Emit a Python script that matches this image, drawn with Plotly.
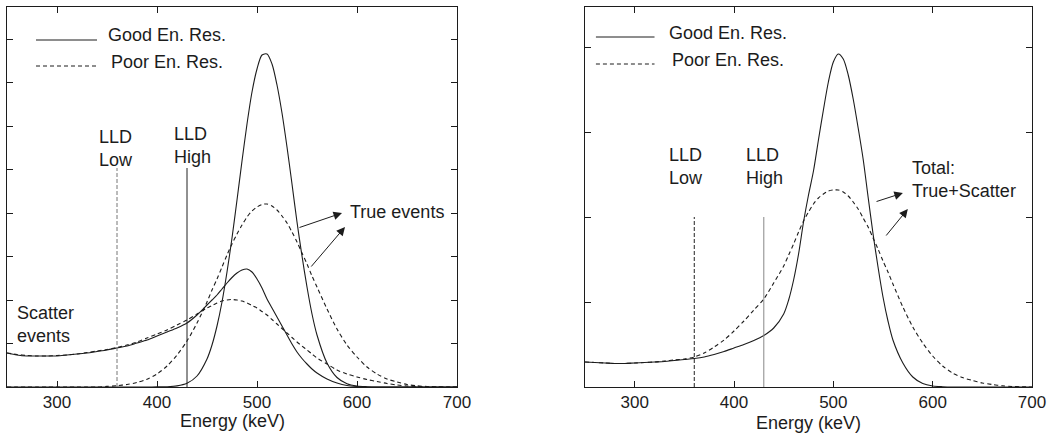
import plotly.graph_objects as go

# ---------------- data (energy in keV, counts in arbitrary units) ----------------
energy_kev = [250, 260, 270, 280, 290, 300, 310, 320, 330, 340,
              350, 360, 370, 380, 390, 400, 410, 420, 430, 440,
              450, 455, 460, 465, 470, 475, 480, 485, 490, 495,
              500, 505, 510, 515, 520, 525, 530, 535, 540, 545,
              550, 555, 560, 570, 580, 590, 600, 610, 620, 630,
              640, 650, 660, 670, 680, 690, 700]

# Left panel: true and scatter components
left_good_true = [0, 0, 0, 0, 0, 0, 0, 0, 0, 0,
                  0, 0, 0, 0, 0, 0.1, 0.3, 1.1, 3.7, 11,
                  28, 42, 61, 85, 115, 149, 187, 226, 263, 295,
                  318, 332, 333, 323, 302, 274, 240, 203, 165, 131,
                  100, 73, 52, 24, 9.5, 3.3, 1, 0.3, 0, 0,
                  0, 0, 0, 0, 0, 0, 0]
left_poor_true = [0, 0, 0, 0, 0, 0, 0, 0, 0, 0,
                  0.6, 1.3, 2.5, 4.5, 7.8, 13, 21, 32, 46, 64,
                  85, 97, 108, 120, 132, 143, 153, 162, 170, 176,
                  180, 182.5, 183, 181, 177, 171, 164, 155, 145, 134,
                  123, 111, 100, 78, 58, 42, 30, 20, 13, 8,
                  5, 2.5, 1.2, 0.5, 0.2, 0, 0]
left_good_scatter = [34, 32, 31, 31, 31, 31, 32, 33, 34, 35.5,
                     37, 39, 41, 44, 47, 51, 55, 59, 64, 72,
                     82, 87, 92, 98, 104, 109.5, 114, 117, 118, 115,
                     108, 99, 88, 79, 70, 61, 52, 43, 35, 28.5,
                     23, 18, 14, 8, 4, 1.5, 0.5, 0, 0, 0,
                     0, 0, 0, 0, 0, 0, 0]
left_poor_scatter = [34, 32.5, 31.5, 31, 31, 31.5, 32, 33, 34.5, 36,
                     37.5, 39.5, 42, 45, 49, 53, 57, 62, 67, 73,
                     79, 81.5, 84, 86, 87, 87.5, 87, 86, 84, 81.5,
                     79, 75.5, 72, 67.5, 63, 58.5, 54, 49.5, 45, 41,
                     37, 33, 29, 23, 17, 13, 10, 7.5, 5.5, 3.5,
                     2, 1, 0.5, 0.2, 0, 0, 0]

# Right panel: total (true + scatter)
right_good_total = [25, 24.5, 24, 23.5, 23.5, 24, 24.5, 25, 25.5, 26.5,
                    27.5, 28.5, 30, 32.5, 35.5, 39, 42.5, 46.5, 51.5, 59,
                    73, 87, 107, 133, 165, 192, 216, 247, 277, 305,
                    325, 333, 328, 312, 288, 259, 228, 190, 153, 120,
                    90, 66, 47, 24, 10, 3.5, 1, 0.3, 0, 0,
                    0, 0, 0, 0, 0, 0, 0]
right_poor_total = [25, 24.5, 24, 23.5, 23.5, 24, 24.5, 25, 26, 27,
                    28, 30, 34, 40, 47, 56, 66, 77, 88, 104,
                    121, 132, 143, 155, 166, 175, 183, 189, 193, 196,
                    197, 197, 195, 191, 185, 178, 169, 160, 149, 138,
                    126, 115, 103, 80, 60, 44, 31, 21, 14, 9.5,
                    6.5, 4, 2.5, 1.2, 0.5, 0.2, 0]

lld_kev = [360, 430]
lld_labels = ["LLD<br>Low", "LLD<br>High"]
lld_dash = ["4px,2px", "solid"]
left_lld_colors = ["#777777", "#222222"]
right_lld_colors = ["#222222", "#888888"]
left_lld_top = 219
right_lld_top = 170

x_ticks = [300, 400, 500, 600, 700]
left_y_ticks = [0, 43.5, 87, 130.5, 174, 217.5, 261, 304.5, 348]
right_y_ticks = [0, 85, 170, 255, 340]
legend_texts = ["Good En. Res.", "Poor En. Res."]
x_title = "Energy (keV)"

# ---------------- style ----------------
INK = "#1c1c1c"
FONT = "Liberation Sans, Arial, sans-serif"
GOOD_DASH = "solid"
POOR_DASH = "4px,3px"
W, H = 1059, 436

fig = go.Figure()


def curve(y, xa, ya, dash, width=1.1, color=INK):
    fig.add_trace(go.Scatter(
        x=energy_kev, y=y, xaxis=xa, yaxis=ya, mode="lines",
        line=dict(color=color, width=width, dash=dash, shape="spline", smoothing=0.8),
        hoverinfo="skip", showlegend=False))


# left panel curves
curve(left_good_true, "x", "y", GOOD_DASH)
curve(left_poor_true, "x", "y", POOR_DASH)
curve(left_good_scatter, "x", "y", GOOD_DASH)
curve(left_poor_scatter, "x", "y", POOR_DASH)
# right panel curves
curve(right_good_total, "x2", "y2", GOOD_DASH)
curve(right_poor_total, "x2", "y2", POOR_DASH)

# LLD threshold lines
for xa, ya, top, cols in (("x", "y", left_lld_top, left_lld_colors),
                          ("x2", "y2", right_lld_top, right_lld_colors)):
    for e, d, c in zip(lld_kev, lld_dash, cols):
        fig.add_trace(go.Scatter(
            x=[e, e], y=[0, top], xaxis=xa, yaxis=ya, mode="lines",
            line=dict(color=c, width=1, dash=d),
            hoverinfo="skip", showlegend=False))

annotations = []
shapes = []


def label(text, x, y, xref, yref, size=18, xanchor="left"):
    annotations.append(dict(text=text, x=x, y=y, xref=xref, yref=yref,
                            xanchor=xanchor, yanchor="middle", showarrow=False,
                            align="left", font=dict(family=FONT, size=size, color=INK)))


def arrow(x, y, ax, ay, xref, yref):
    annotations.append(dict(text="", x=x, y=y, ax=ax, ay=ay, xref=xref, yref=yref,
                            axref=xref, ayref=yref, showarrow=True, arrowhead=2,
                            arrowsize=1.7, arrowwidth=1, arrowcolor=INK))


# ---- left panel text ----
shapes.append(dict(type="line", xref="x", yref="y", x0=279, x1=340, y0=347, y1=347,
                   line=dict(color=INK, width=1, dash=GOOD_DASH)))
shapes.append(dict(type="line", xref="x", yref="y", x0=279, x1=340, y0=321, y1=321,
                   line=dict(color=INK, width=1, dash=POOR_DASH)))
label(legend_texts[0], 349, 352, "x", "y")
label(legend_texts[1], 352, 325, "x", "y")
label(lld_labels[0], 340, 238, "x", "y")
label(lld_labels[1], 415, 241, "x", "y")
label("Scatter<br>events", 258, 63, "x", "y")
label("True events", 591, 175, "x", "y")
arrow(585, 174, 541, 159, "x", "y")
arrow(588, 160, 553, 119, "x", "y")

# ---- right panel text ----
shapes.append(dict(type="line", xref="x2", yref="y2", x0=261, x1=320, y0=350, y1=350,
                   line=dict(color=INK, width=1, dash=GOOD_DASH)))
shapes.append(dict(type="line", xref="x2", yref="y2", x0=261, x1=320, y0=323, y1=323,
                   line=dict(color=INK, width=1, dash=POOR_DASH)))
label(legend_texts[0], 333, 354, "x2", "y2")
label(legend_texts[1], 336, 327, "x2", "y2")
label(lld_labels[0], 333, 220, "x2", "y2")
label(lld_labels[1], 410, 220, "x2", "y2")
label("Total:<br>True+Scatter", 577, 207, "x2", "y2")
arrow(570, 194, 542, 185, "x2", "y2")
arrow(575, 178, 552, 150, "x2", "y2")

# ---- axis titles (placed as paper-anchored text) ----
annotations.append(dict(text=x_title, x=232 / W, y=1 - 421 / H, xref="paper", yref="paper",
                        xanchor="center", yanchor="middle", showarrow=False,
                        font=dict(family=FONT, size=18, color=INK)))
annotations.append(dict(text=x_title, x=808 / W, y=1 - 423 / H, xref="paper", yref="paper",
                        xanchor="center", yanchor="middle", showarrow=False,
                        font=dict(family=FONT, size=18, color=INK)))

y_dom = [1 - 387 / H, 1 - 7 / H]

xcommon = dict(range=[250, 700], tickvals=x_ticks, ticks="inside", ticklen=6,
               tickcolor=INK, showline=True, linecolor=INK, linewidth=1,
               mirror="allticks", showgrid=False, zeroline=False, automargin=False,
               tickfont=dict(family=FONT, size=17, color=INK))
ycommon = dict(range=[0, 380], ticks="inside", ticklen=6, tickcolor=INK,
               showline=True, linecolor=INK, linewidth=1, mirror="allticks",
               showgrid=False, zeroline=False, showticklabels=False, automargin=False,
               domain=y_dom)

fig.update_layout(
    width=W, height=H,
    margin=dict(l=0, r=0, t=0, b=0, autoexpand=False),
    paper_bgcolor="white", plot_bgcolor="white",
    xaxis=dict(domain=[7 / W, 457 / W], anchor="y", **xcommon),
    yaxis=dict(anchor="x", tickvals=left_y_ticks, **ycommon),
    xaxis2=dict(domain=[585 / W, 1032 / W], anchor="y2", **xcommon),
    yaxis2=dict(anchor="x2", tickvals=right_y_ticks, **ycommon),
    annotations=annotations,
    shapes=shapes,
    showlegend=False,
)

fig.write_html(
    "out.html",
    config={"displayModeBar": False},
    post_script="document.body.style.margin='0px';document.body.style.overflow='hidden';",
)
